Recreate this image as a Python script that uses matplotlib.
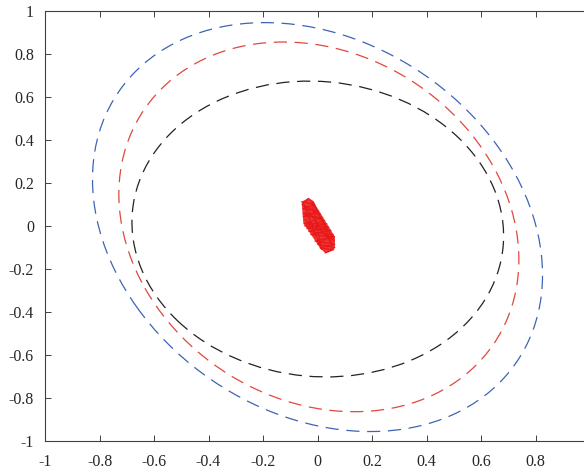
import numpy as np
import matplotlib
matplotlib.use("Agg")
import matplotlib.pyplot as plt
from matplotlib.patches import Ellipse

# ellipse boundaries (full width, full height, angle in degrees, centre)
ell_names   = ["blue", "red", "black"]
ell_width   = [2.008, 1.777, 1.402]
ell_height  = [1.521, 1.398, 1.337]
ell_angle   = [-60.6, -65.9, -50.3]
ell_cx      = [0.0, 0.005, 0.001]
ell_cy      = [-0.005, -0.004, -0.014]
ell_colors  = ["#3f63b5", "#e0483c", "#222222"]

# red trajectory scribble near the origin
traj_x = [-0.058, -0.010, -0.055, 0.005, -0.053, 0.020, -0.050, 0.035, -0.040, 0.050,
          -0.025, 0.063, -0.010, 0.064, 0.009, 0.060, 0.028, 0.064, 0.000, 0.058,
          -0.032, 0.042, -0.048, 0.027, -0.054, 0.012, -0.057, -0.034, -0.015, 0.055,
          -0.050, 0.015, -0.020, 0.062, -0.045]
traj_y = [0.113, 0.100, 0.080, 0.070, 0.045, 0.040, 0.010, 0.010, -0.010, -0.020,
          -0.040, -0.050, -0.070, -0.085, -0.102, -0.110, -0.126, -0.100, -0.085, -0.040,
          -0.025, -0.005, 0.000, 0.025, 0.060, 0.055, 0.100, 0.129, 0.113, -0.090,
          0.100, -0.110, 0.110, -0.070, 0.030]
blob_x = [-0.058, -0.034, -0.015, 0.064, 0.064, 0.028, 0.009, -0.052]
blob_y = [0.113, 0.129, 0.113, -0.050, -0.102, -0.126, -0.102, 0.013]

xticks = [-1, -0.8, -0.6, -0.4, -0.2, 0, 0.2, 0.4, 0.6, 0.8, 1]
yticks = [-1, -0.8, -0.6, -0.4, -0.2, 0, 0.2, 0.4, 0.6, 0.8, 1]

plt.rcParams['font.family'] = ['Liberation Serif', 'DejaVu Serif']
plt.rcParams['lines.scale_dashes'] = False

fig = plt.figure(figsize=(5.84, 4.68), dpi=100)
# the original is cropped: the right spine sits just past the image edge
ax = fig.add_axes([45/584, 27/468, 545/584, 430/468])

for w, h, a, cx, cy, c in zip(ell_width, ell_height, ell_angle, ell_cx, ell_cy, ell_colors):
	e = Ellipse((cx, cy), w, h, angle=a, fill=False, edgecolor=c,
	            linewidth=0.9, linestyle=(0, (9.5, 5.5)))
	ax.add_patch(e)

ax.fill(blob_x, blob_y, color="#ee1c1c", alpha=0.9, linewidth=0)
ax.plot(traj_x, traj_y, color="#e81818", linewidth=0.7)

ax.set_xlim(-1, 1)
ax.set_ylim(-1, 1)
ax.set_xticks(xticks)
ax.set_yticks(yticks)
# the x = 1 label falls outside the cropped picture
ax.set_xticklabels([("%g" % t) if t < 1 else "" for t in xticks])
ax.set_yticklabels([("%g" % t) for t in yticks])

ax.tick_params(direction='in', length=4, width=0.7, colors='#404040',
               labelcolor='#262626', labelsize=11.5, top=True, right=True)
ax.tick_params(axis='x', pad=9)
ax.tick_params(axis='y', pad=8)
for s in ax.spines.values():
	s.set_color('#404040')
	s.set_linewidth(0.8)

fig.savefig("out.png", dpi=100)
